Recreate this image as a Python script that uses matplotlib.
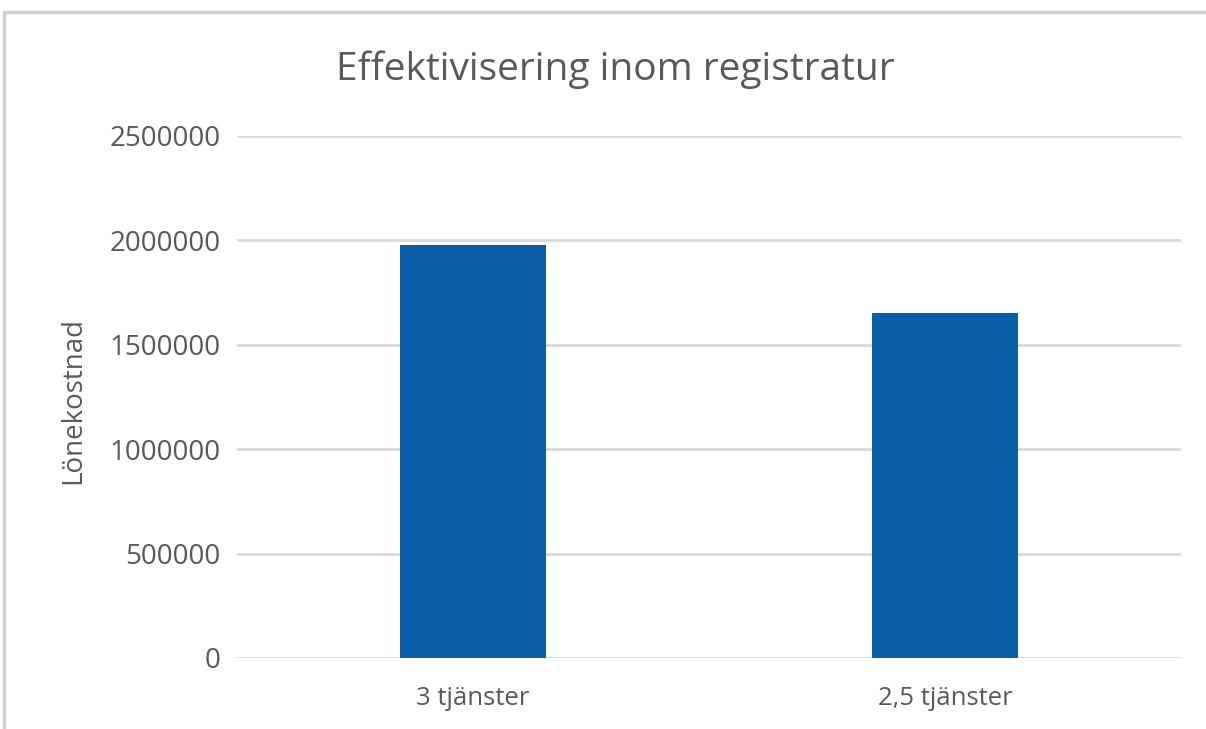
import matplotlib.pyplot as plt
from matplotlib.lines import Line2D

categories = ['3 tjänster', '2,5 tjänster']
values = [1980000, 1650000]
yticks = [0, 500000, 1000000, 1500000, 2000000, 2500000]

W, H = 1206, 729
plt.rcParams['font.family'] = ['Open Sans', 'DejaVu Sans']
fig = plt.figure(figsize=(W / 100, H / 100), dpi=100)
ax = fig.add_axes([237 / W, 1 - 658 / H, (1181 - 237) / W, (658 - 136) / H])

grey = '#595959'
ax.bar(range(len(categories)), values, width=0.31, color='#0A5EA8', zorder=3)
ax.set_xlim(-0.5, len(categories) - 0.5)
ax.set_ylim(0, 2500000)
ax.set_yticks(yticks)
ax.set_yticklabels([str(v) for v in yticks])
ax.set_xticks(range(len(categories)))
ax.set_xticklabels(categories)
ax.grid(axis='y', color='#d9d9d9', linewidth=2, zorder=0)
for s in ax.spines.values():
    s.set_visible(False)
ax.tick_params(length=0, labelcolor=grey)
ax.tick_params(axis='y', labelsize=20, pad=12)
ax.tick_params(axis='x', labelsize=18.5, pad=20)

fig.text(73 / W, 1 - 401 / H, 'Lönekostnad', fontsize=20, color=grey,
         rotation=90, ha='center', va='center')
fig.text(615 / W, 1 - 70 / H, 'Effektivisering inom registratur', fontsize=28,
         color=grey, ha='center', va='center')

# outer frame of the chart area (screenshot border)
fig.add_artist(Line2D([4 / W, 4 / W, 1.0], [0.0, 1 - 12 / H, 1 - 12 / H],
                      transform=fig.transFigure, color='#d0d0d0', linewidth=2.5))

fig.savefig('out.png', dpi=100)
